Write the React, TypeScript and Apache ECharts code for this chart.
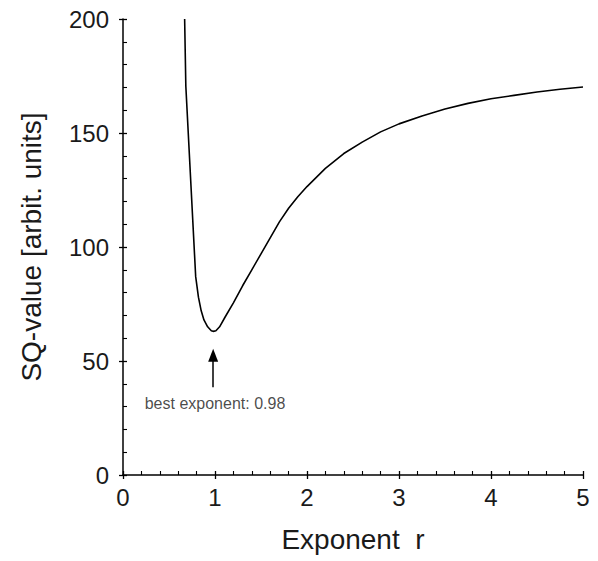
import React, { useEffect, useRef } from "react";
import * as echarts from "echarts";

// Exponent r values and SQ-values
const exponentR = [
  0.67, 0.683, 0.79, 0.82, 0.85, 0.88, 0.92, 0.96, 0.98, 1.01, 1.05, 1.11, 1.2, 1.3, 1.4,
  1.5, 1.6, 1.7, 1.8, 1.9, 2.0, 2.2, 2.4, 2.6, 2.8, 3.0, 3.25, 3.5, 3.75, 4.0, 4.25, 4.5,
  4.75, 5.0,
];
const sqValue = [
  200, 170.5, 87, 78, 72, 68, 65, 63.3, 63, 63.3, 65, 69.3, 75.5, 83, 90,
  97, 104, 111, 117, 122, 126.5, 134.5, 141, 146, 150.5, 154, 157.5, 160.5, 163, 165, 166.5, 168,
  169.2, 170.2,
];

// Annotation
const bestExponent = 0.98;
const arrowFromTo = [38.5, 52.5];
const annotationText = "best exponent: 0.98";
const annotationPos = [1.0, 31.5];

const xTitle = "Exponent  r";
const yTitle = "SQ-value [arbit. units]";

const FONT = "Liberation Sans, Arial, Helvetica, sans-serif";
const INK = "#1a1a1a";

export default function App() {
  const ref = useRef<HTMLDivElement>(null);
  useEffect(() => {
    if (!ref.current) return;
    const chart = echarts.init(ref.current, undefined, { renderer: "svg" });
    const curve = exponentR.map((r, i) => [r, sqValue[i]]);
    const tickStyle = { color: "#000", width: 1.3 };
    chart.setOption({
      animation: false,
      backgroundColor: "#fff",
      grid: { left: 123, right: 15, top: 19, bottom: 86 },
      xAxis: [
        {
          type: "value",
          min: 0,
          max: 5,
          interval: 1,
          name: xTitle,
          nameLocation: "middle",
          nameGap: 50,
          nameTextStyle: { fontSize: 28, color: INK, fontFamily: FONT },
          axisLine: { show: true, onZero: false, lineStyle: { color: "#000", width: 1.5 } },
          axisTick: { show: true, inside: true, length: 4, lineStyle: tickStyle },
          minorTick: { show: true, splitNumber: 5, length: 4, lineStyle: { color: "#000", width: 1.1 } },
          axisLabel: { fontSize: 24, color: INK, fontFamily: FONT, margin: 10 },
          splitLine: { show: false },
          minorSplitLine: { show: false },
        },
        {
          type: "value",
          min: 0,
          max: 5,
          interval: 1,
          position: "bottom",
          axisLine: { show: false },
          axisTick: { show: true, inside: false, length: 4, lineStyle: tickStyle },
          axisLabel: { show: false },
          splitLine: { show: false },
        },
      ],
      yAxis: [
        {
          type: "value",
          min: 0,
          max: 200,
          interval: 50,
          name: yTitle,
          nameLocation: "middle",
          nameGap: 78,
          nameTextStyle: { fontSize: 28, color: INK, fontFamily: FONT },
          axisLine: { show: true, onZero: false, lineStyle: { color: "#000", width: 1.5 } },
          axisTick: { show: true, inside: true, length: 4, lineStyle: tickStyle },
          minorTick: { show: true, splitNumber: 5, length: 4, lineStyle: { color: "#000", width: 1.1 } },
          axisLabel: { fontSize: 24, color: INK, fontFamily: FONT, margin: 14 },
          splitLine: { show: false },
          minorSplitLine: { show: false },
        },
        {
          type: "value",
          min: 0,
          max: 200,
          interval: 50,
          position: "left",
          axisLine: { show: false },
          axisTick: { show: true, inside: false, length: 4, lineStyle: tickStyle },
          axisLabel: { show: false },
          splitLine: { show: false },
        },
      ],
      series: [
        {
          type: "line",
          data: curve,
          showSymbol: false,
          symbol: "none",
          smooth: false,
          clip: true,
          lineStyle: { color: "#000", width: 1.6 },
          markLine: {
            silent: true,
            symbol: ["none", "triangle"],
            symbolSize: [10, 13],
            label: { show: false },
            lineStyle: { color: "#000", width: 1.5, type: "solid" },
            data: [
              [
                { coord: [bestExponent, arrowFromTo[0]] },
                { coord: [bestExponent, arrowFromTo[1]] },
              ],
            ],
          },
        },
        {
          type: "scatter",
          data: [annotationPos],
          symbolSize: 0,
          silent: true,
          label: {
            show: true,
            position: "inside",
            formatter: annotationText,
            fontSize: 16,
            color: INK,
            fontFamily: FONT,
          },
        },
      ],
    });
    return () => chart.dispose();
  }, []);
  return <div ref={ref} style={{ width: 598, height: 561, position: "absolute", left: 0, top: 0 }} />;
}
